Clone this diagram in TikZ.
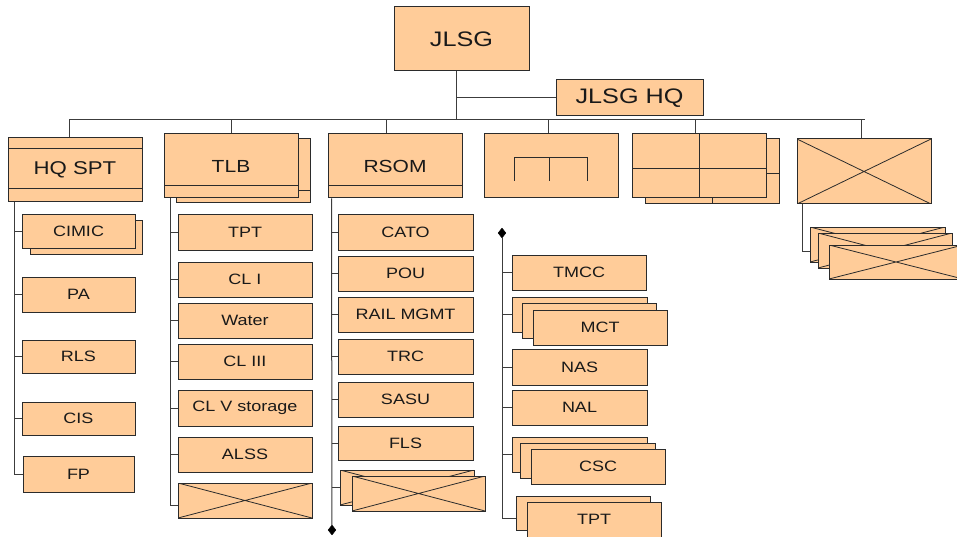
\documentclass[tikz,border=0pt]{standalone}
\usepackage{fontspec}
\setmainfont{Liberation Sans}[FakeStretch=1.2]
\usetikzlibrary{shapes.geometric}
\definecolor{peach}{HTML}{FFCC99}
\definecolor{edge}{HTML}{2B2B2B}
\definecolor{conn}{HTML}{3C3C3C}
\newcommand\myfs[1]{\fontsize{#1}{#1}\selectfont}
% [style]{name}{left}{top}{right}{bottom}{text}
\newcommand\ubox[7][box]{\node[#1, minimum width={#5-#3}, minimum height={#6-#4}] (#2) at ({(#3+#5)/2},{(#4+#6)/2}) {#7};}
\begin{document}
\begin{tikzpicture}[x=1pt,y=-1pt,
  box/.style={draw=edge, fill=peach, line width=1pt, inner sep=0pt, font=\myfs{15}, text=black!90},
  xbox/.style={box, path picture={\draw[edge, line width=0.8pt]
      (path picture bounding box.north west) -- (path picture bounding box.south east)
      (path picture bounding box.south west) -- (path picture bounding box.north east);}},
  link/.style={draw=conn, line width=1pt},
  inner/.style={draw=edge, line width=1pt},
  tip/.style={diamond, fill=black, draw=black, inner sep=0pt, minimum width=8pt, minimum height=10pt}]
\useasboundingbox[fill=white] (0,0) rectangle (957,537);

% ---- top ----
\ubox[box, font=\myfs{21}]{jlsg}{394}{7}{529}{71}{JLSG}
\ubox[box, font=\myfs{21}]{jlsghq}{556}{80}{703}{116}{JLSG HQ}

% ---- second level ----
\ubox[box, font=\myfs{18.5}]{hqspt}{8}{138}{142}{202}{HQ SPT}
\draw[inner] (8,149) -- (142,149) (8,189) -- (142,189);

\ubox{tlbback}{176}{139}{310}{203}{}
\draw[inner] (176,191) -- (310,191);
\ubox[box, font=\myfs{17.5}]{tlb}{164}{134}{298}{198}{TLB}
\draw[inner] (164,186) -- (298,186);

\ubox[box, font=\myfs{17.5}]{rsom}{328}{134}{462}{198}{RSOM}
\draw[inner] (328,186) -- (462,186);

\ubox{boxd}{484}{134}{618}{198}{}
\draw[inner] (514,181) -- (514,158) -- (587,158) -- (587,181) (549,158) -- (549,181);

\ubox{boxeback}{645}{139}{779}{204}{}
\draw[inner] (712,139) -- (712,204) (645,174) -- (779,174);
\ubox{boxe}{632}{134}{766}{198}{}
\draw[inner] (699,134) -- (699,198) (632,169) -- (766,169);

\ubox[xbox]{boxf}{797}{139}{931}{204}{}
\ubox[xbox]{xsa}{810}{227}{945}{262}{}
\ubox[xbox]{xsb}{818}{233}{952}{268}{}
\ubox[xbox]{xsc}{829}{245}{963}{279}{}

% ---- HQ SPT children ----
\ubox{cimicback}{30}{221}{142}{254}{}
\ubox{cimic}{22}{215}{135}{248}{CIMIC}
\ubox{pa}{22}{277}{135}{312}{PA}
\ubox{rls}{22}{340}{135}{373}{RLS}
\ubox{cis}{22}{402}{135}{435}{CIS}
\ubox{fp}{23}{456}{134}{492}{FP}

% ---- TLB children ----
\ubox{tpt}{178}{215}{312}{250}{TPT}
\ubox{cli}{178}{262}{312}{297}{CL I}
\ubox{water}{178}{303}{312}{338}{Water}
\ubox{cliii}{178}{344}{312}{379}{CL III}
\ubox{clv}{178}{390}{312}{426}{CL V storage}
\ubox{alss}{178}{437}{312}{472}{ALSS}
\ubox[xbox]{tlbx}{178}{483}{312}{518}{}

% ---- RSOM children ----
\ubox{cato}{338}{215}{473}{250}{CATO}
\ubox{pou}{338}{256}{473}{291}{POU}
\ubox{rail}{338}{297}{473}{332}{RAIL MGMT}
\ubox{trc}{338}{339}{473}{374}{TRC}
\ubox{sasu}{338}{382}{473}{417}{SASU}
\ubox{fls}{338}{426}{473}{460}{FLS}
\ubox[xbox]{rsxa}{340}{470}{474}{505}{}
\ubox[xbox]{rsxb}{352}{476}{485}{511}{}

% ---- right column ----
\ubox{tmcc}{512}{255}{646}{290}{TMCC}
\ubox{mcta}{512}{297}{647}{332}{}
\ubox{mctb}{522}{303}{656}{338}{}
\ubox{mct}{533}{310}{667}{345}{MCT}
\ubox{nas}{512}{349}{647}{385}{NAS}
\ubox{nal}{512}{390}{647}{425}{NAL}
\ubox{csca}{512}{437}{647}{472}{}
\ubox{cscb}{520}{443}{655}{478}{}
\ubox{csc}{531}{449}{665}{484}{CSC}
\ubox{tpta}{516}{496}{650}{530}{}
\ubox{tptb}{527}{502}{661}{537}{TPT}

\node[tip] (d1) at (332,530) {};
\node[tip] (d2) at (502,233) {};

% ---- connectors top ----
\coordinate (hub) at (456,120);
\coordinate (busL) at (69,120);
\coordinate (busR) at (865,120);
\draw[link] (jlsg.south -| hub) -- (hub);
\draw[link] (hub |- jlsghq.west) -- (jlsghq.west);
\draw[link] (busL) -- (busR);
\draw[link] (busL) -- (busL |- hqspt.north);
\draw[link] (tlb.north |- hub) -- (tlb.north);
\coordinate (dr) at ([xshift=-9pt]rsom.north);
\draw[link] (dr |- hub) -- (dr);
\coordinate (dd) at ([xshift=-3pt]boxd.north);
\draw[link] (dd |- hub) -- (dd);
\coordinate (de) at ([xshift=-4pt]boxe.north);
\draw[link] (de |- hub) -- (de);
\coordinate (df) at ([xshift=-3pt]boxf.north);
\draw[link] (df |- hub) -- (df);
\coordinate (sf) at ([xshift=6pt]boxf.south west);
\draw[link] (sf) |- ([yshift=-6.5pt]xsa.west);

% ---- HQ SPT spine ----
\coordinate (s1) at ([xshift=7pt]hqspt.south west);
\draw[link] (s1) |- (fp.west);
\foreach \n in {cimic,pa,rls,cis} \draw[link] (s1 |- \n.west) -- (\n.west);

% ---- TLB spine ----
\coordinate (s2) at ([xshift=7pt]tlb.south west);
\draw[link] (s2) |- ([yshift=-5pt]tlbx.west);
\foreach \n in {tpt,cli,water,cliii,clv,alss} \draw[link] (s2 |- \n.west) -- (\n.west);

% ---- RSOM spine ----
\coordinate (s3) at ([xshift=4pt]rsom.south west);
\draw[link] (s3) -- (d1);
\foreach \n in {cato,pou,rail,trc,sasu,fls,rsxa} \draw[link] (s3 |- \n.west) -- (\n.west);

% ---- right spine ----
\draw[link] (d2) |- ([yshift=-5pt]tpta.west);
\foreach \n in {tmcc,mcta,nas,nal,csca} \draw[link] (d2 |- \n.west) -- (\n.west);
\end{tikzpicture}
\end{document}
